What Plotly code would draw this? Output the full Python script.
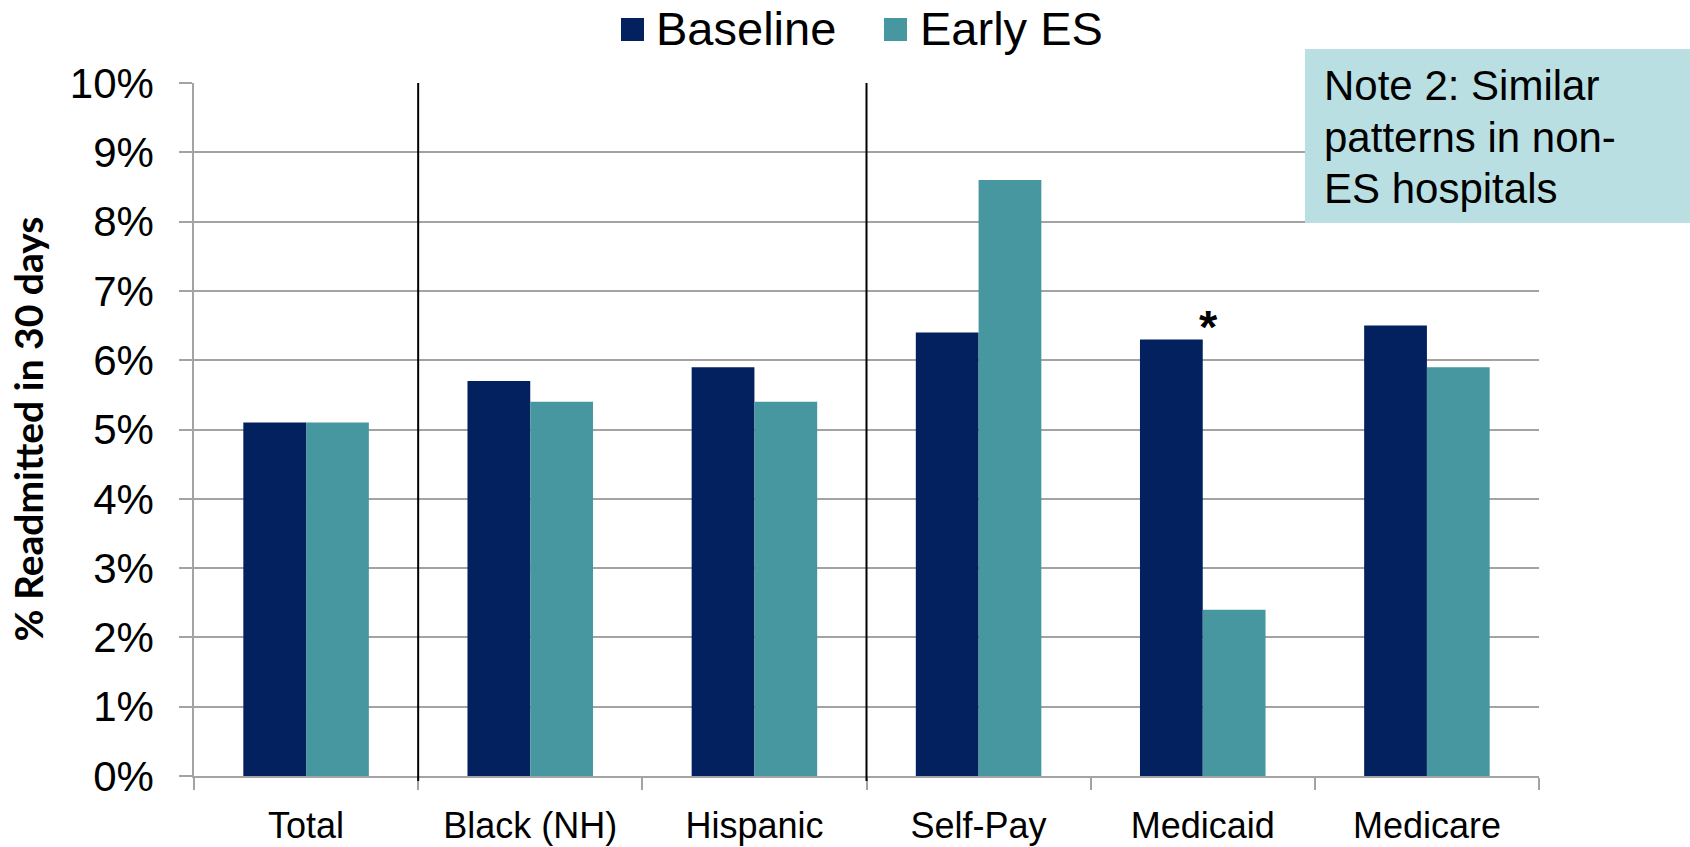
import plotly.graph_objects as go

# Readmission rates within 30 days, by group
categories = ["Total", "Black (NH)", "Hispanic", "Self-Pay", "Medicaid", "Medicare"]
series_names = ["Baseline", "Early ES"]
baseline = [5.1, 5.7, 5.9, 6.4, 6.3, 6.5]
early_es = [5.1, 5.4, 5.4, 8.6, 2.4, 5.9]
y_ticks = [0, 1, 2, 3, 4, 5, 6, 7, 8, 9, 10]
note_lines = ["Note 2: Similar", "patterns in non-", "ES hospitals"]
significant = "Medicaid"

NAVY = "#03215F"
TEAL = "#46979F"
GRID = "#A3A3A3"
BOX = "#B9DFE2"
ARIAL = "Arial, 'Liberation Sans', sans-serif"

W, H = 1690, 847
L, R, T, B = 194, 151, 83, 71
PW, PH = W - L - R, H - T - B


def px(x):
    return (x - L) / PW


def py(y):
    return (H - B - y) / PH


fig = go.Figure()
for name, vals, color in [(series_names[0], baseline, NAVY), (series_names[1], early_es, TEAL)]:
    fig.add_trace(go.Bar(
        x=categories, y=vals, name=name, marker_color=color,
        marker_line_width=0, showlegend=False,
    ))

shapes = []
# group separators between category blocks
for xb in [0.5, 2.5]:
    shapes.append(dict(type="line", xref="x", yref="paper", x0=xb, x1=xb,
                       y0=py(781), y1=1, line=dict(color="black", width=2)))
# note box
shapes.append(dict(type="rect", xref="paper", yref="paper", x0=px(1305), x1=px(1700),
                   y0=py(223), y1=py(49), fillcolor=BOX, line=dict(width=0), layer="above"))
# legend swatches
for x0, color in [(621, NAVY), (884, TEAL)]:
    shapes.append(dict(type="rect", xref="paper", yref="paper", x0=px(x0), x1=px(x0 + 23),
                       y0=py(41), y1=py(18), fillcolor=color, line=dict(width=0)))

annotations = [
    dict(xref="paper", yref="paper", x=px(654), y=py(29), xanchor="left", yanchor="middle",
         text=series_names[0], showarrow=False, font=dict(family=ARIAL, size=47, color="black")),
    dict(xref="paper", yref="paper", x=px(918), y=py(29), xanchor="left", yanchor="middle",
         text=series_names[1], showarrow=False, font=dict(family=ARIAL, size=47, color="black")),
    dict(xref="x", yref="y", x=significant, y=baseline[categories.index(significant)] + 0.19,
         xshift=6, xanchor="center", yanchor="middle", text="<b>*</b>", showarrow=False,
         font=dict(family=ARIAL, size=47, color="black")),
    dict(xref="paper", yref="paper", x=px(27), y=0.5, xanchor="center", yanchor="middle",
         textangle=-90, text="<b>% Readmitted in 30 days</b>", showarrow=False,
         font=dict(family="Lato, 'Open Sans', sans-serif", size=39, color="black")),
]
# note text, one line per annotation for tighter line spacing
for i, line in enumerate(note_lines):
    annotations.append(dict(
        xref="paper", yref="paper", x=px(1322), y=py(86 + 51 * i),
        xanchor="left", yanchor="middle", text=line, showarrow=False,
        font=dict(family=ARIAL, size=42, color="black"),
    ))

fig.update_layout(
    width=W, height=H,
    margin=dict(l=L, r=R, t=T, b=B, autoexpand=False),
    paper_bgcolor="white", plot_bgcolor="white",
    barmode="group", bargap=0.44, bargroupgap=0,
    shapes=shapes, annotations=annotations,
    showlegend=False,
)
fig.update_xaxes(
    type="category", tickson="boundaries", ticks="outside", ticklen=12, tickwidth=1.5,
    tickcolor=GRID, showline=True, linecolor=GRID, linewidth=1.5, showgrid=False,
    tickfont=dict(family=ARIAL, size=36, color="black"), ticklabelstandoff=17,
    range=[-0.5, 5.5],
)
fig.update_yaxes(
    range=[0, 10], tickvals=y_ticks, ticktext=[f"{v}%" for v in y_ticks],
    ticks="outside", ticklen=13, tickwidth=1.5, tickcolor=GRID,
    showline=True, linecolor=GRID, linewidth=1.5,
    showgrid=True, gridcolor=GRID, gridwidth=1.5, zeroline=False,
    tickfont=dict(family=ARIAL, size=42, color="black"), ticklabelstandoff=17,
)

fig.write_html("out.html")
